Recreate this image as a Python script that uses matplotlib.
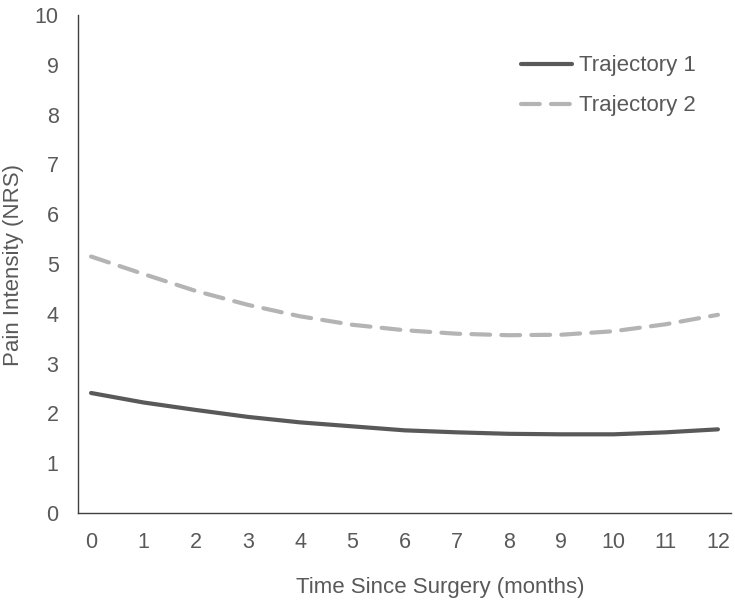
import matplotlib
matplotlib.use("Agg")
import matplotlib.pyplot as plt

months = [0, 1, 2, 3, 4, 5, 6, 7, 8, 9, 10, 11, 12]
traj1 = [2.41, 2.22, 2.07, 1.93, 1.82, 1.74, 1.66, 1.62, 1.59, 1.58, 1.58, 1.62, 1.68]
traj2 = [5.15, 4.80, 4.46, 4.18, 3.95, 3.78, 3.67, 3.60, 3.57, 3.58, 3.65, 3.79, 3.98]
yticks = list(range(0, 11))

plt.rcParams['font.family'] = ['Liberation Sans', 'DejaVu Sans']

fig = plt.figure(figsize=(7.35, 6.03), dpi=100)
ax = fig.add_axes([78/735, 1-513/603, (731-78)/735, (513-15)/603])

ax.plot(months, traj1, color='#595959', lw=3.0, solid_capstyle='round',
        solid_joinstyle='round', label='Trajectory 1')
ax.plot(months, traj2, color='#b4b4b4', lw=3.0, dashes=(4.5, 2.7),
        dash_capstyle='round', label='Trajectory 2')

ax.set_xlim(-0.25, 12.25)
ax.set_ylim(0, 10)
ax.set_xticks(months)
ax.set_yticks(yticks)
ax.tick_params(length=0, labelsize=15.5, colors='#595959')
ax.tick_params(axis='x', pad=14)
ax.tick_params(axis='y', pad=14)
for s in ['top', 'right']:
    ax.spines[s].set_visible(False)
for s in ['left', 'bottom']:
    ax.spines[s].set_color('#404040')
    ax.spines[s].set_linewidth(1.0)

ax.set_xlabel('Time Since Surgery (months)', fontsize=16, color='#595959')
ax.xaxis.set_label_coords((440 - 78) / 653, -(587 - 513) / 498)
ax.xaxis.label.set_va('center')
ax.set_ylabel('Pain Intensity (NRS)', fontsize=16, color='#595959')
ax.yaxis.set_label_coords(-(78 - 14) / 653, (513 - 265) / 498)
ax.yaxis.label.set_va('center')

leg = ax.legend(loc='upper right', bbox_to_anchor=(0.977, 0.959), frameon=False,
                fontsize=16, handlelength=2.3, handletextpad=0.3, labelspacing=0.85,
                labelcolor='#595959')

fig.savefig('out.png', dpi=100)
